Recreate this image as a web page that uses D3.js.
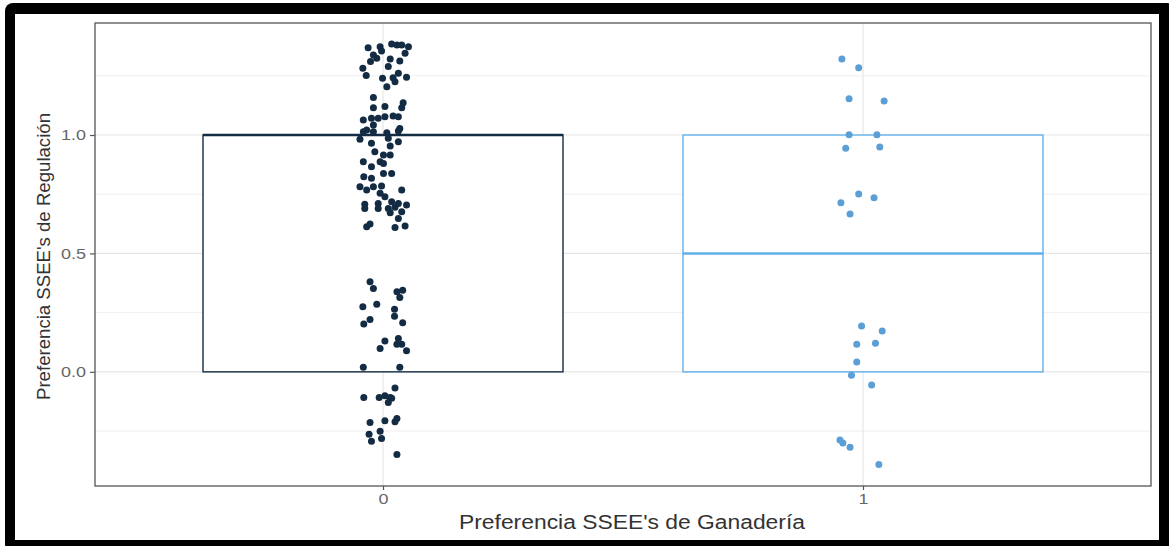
<!DOCTYPE html>
<html>
<head>
<meta charset="utf-8">
<script src="https://cdn.jsdelivr.net/npm/d3@7"></script>
<style>
  html, body { margin: 0; padding: 0; background: #fff; }
  svg { display: block; }
  text { font-family: "Liberation Sans", Arial, sans-serif; }
</style>
</head>
<body>
<svg id="chart" width="1169" height="546"></svg>
<script>
// ---------- data ----------
const categories = ["0", "1"];
const boxQ1 = [0, 0];
const boxMedian = [1, 0.5];
const boxQ3 = [1, 1];
const boxWhiskerLow = [0, 0];
const boxWhiskerHigh = [1, 1];
const groupColors = ["#132B43", "#62B0EA"];
const pointColors = ["#132B43", "#5B9FD6"];

const yMajorTicks = [0, 0.5, 1.0];
const yTickLabels = ["0.0", "0.5", "1.0"];
const yMinorTicks = [-0.25, 0.25, 0.75, 1.25];

const xTitle = "Preferencia SSEE's de Ganadería";
const yTitle = "Preferencia SSEE's de Regulación";

// jittered points, group "0": horizontal jitter (category units) and value
const g0Jitter = [
  -0.031,-0.006,0.018,0.029,0.039,0.053,-0.003,-0.020,-0.013,-0.026,0.015,0.035,0.046,0.011,-0.042,-0.035,-0.001,0.021,0.032,0.049,0.008,0.025,
  -0.020,0.042,-0.020,0.004,0.039,-0.041,-0.024,-0.010,0.004,0.021,0.032,-0.020,-0.034,0.035,
  -0.041,-0.020,0.008,0.032,-0.048,-0.024,0.011,0.032,0.015,-0.017,0.001,0.015,-0.006,-0.041,-0.024,0.001,0.018,0.001,-0.040,-0.024,
  -0.048,-0.034,-0.020,-0.003,-0.006,0.004,0.039,-0.038,-0.038,-0.010,-0.010,0.018,0.011,0.025,0.032,0.049,0.039,0.015,0.032,-0.027,-0.034,0.025,0.046,
  -0.027,-0.020,0.029,0.041,0.035,-0.042,-0.013,0.024,0.024,-0.027,-0.040,0.041,0.004,-0.006,0.032,0.029,0.039,0.049,-0.041,0.035,
  0.025,-0.040,-0.008,0.004,0.015,0.011,0.018,-0.027,0.004,0.025,0.029,-0.029,-0.006,-0.024,-0.003,0.029
];
const g0Values = [
  1.369,1.373,1.384,1.380,1.380,1.373,1.355,1.338,1.324,1.310,1.321,1.313,1.345,1.289,1.282,1.251,1.240,1.242,1.261,1.244,1.204,1.225,
  1.158,1.136,1.115,1.120,1.115,1.063,1.071,1.071,1.077,1.080,1.077,1.042,1.021,1.028,
  1.014,1.014,1.010,1.017,0.982,0.965,0.986,0.972,0.954,0.929,0.916,0.916,0.887,0.887,0.866,0.880,0.838,0.838,0.824,0.817,
  0.782,0.768,0.782,0.785,0.754,0.739,0.768,0.708,0.690,0.711,0.690,0.718,0.690,0.695,0.711,0.704,0.676,0.672,0.648,0.624,0.613,0.610,0.616,
  0.380,0.352,0.338,0.345,0.314,0.275,0.285,0.264,0.235,0.221,0.202,0.207,0.130,0.099,0.141,0.117,0.117,0.089,0.019,0.019,
  -0.068,-0.108,-0.108,-0.101,-0.108,-0.129,-0.112,-0.214,-0.207,-0.211,-0.197,-0.264,-0.251,-0.293,-0.281,-0.349
];
// jittered points, group "1"
const g1Jitter = [
  -0.044,-0.009,-0.029,0.044,-0.029,0.029,-0.036,0.035,-0.009,0.023,-0.046,-0.027,
  -0.003,0.040,-0.013,0.026,-0.013,-0.024,0.018,-0.048,-0.042,-0.027,0.033
];
const g1Values = [
  1.321,1.284,1.153,1.144,1.001,1.001,0.944,0.949,0.751,0.735,0.714,0.666,
  0.194,0.173,0.117,0.121,0.042,-0.014,-0.056,-0.288,-0.300,-0.318,-0.391
];

// ---------- layout ----------
const svg = d3.select("#chart");
const W = 1169, H = 546;
const panel = { left: 95, right: 1151, top: 23, bottom: 486 };

// outer black frame
svg.append("rect").attr("x", 5).attr("y", 3).attr("width", W - 5 + 6).attr("height", H - 3 + 6)
  .attr("rx", 8).attr("fill", "#000");
svg.append("rect").attr("x", 15).attr("y", 14).attr("width", 1159 - 15).attr("height", 540 - 14)
  .attr("fill", "#fff");

// scales
const x = d3.scalePoint().domain(categories).range([panel.left, panel.right]).padding(0.6);
const step = x.step();
const y = d3.scaleLinear().domain([-0.482, 1.473]).range([panel.bottom, panel.top]);

// grid
const g = svg.append("g");
g.selectAll("line.minor").data(yMinorTicks).join("line")
  .attr("x1", panel.left).attr("x2", panel.right)
  .attr("y1", d => y(d)).attr("y2", d => y(d))
  .attr("stroke", "#EBEBEB").attr("stroke-width", 0.8);
g.selectAll("line.major").data(yMajorTicks).join("line")
  .attr("x1", panel.left).attr("x2", panel.right)
  .attr("y1", d => y(d)).attr("y2", d => y(d))
  .attr("stroke", "#E6E6E6").attr("stroke-width", 1.2);
g.selectAll("line.vmajor").data(categories).join("line")
  .attr("x1", d => x(d)).attr("x2", d => x(d))
  .attr("y1", panel.top).attr("y2", panel.bottom)
  .attr("stroke", "#E6E6E6").attr("stroke-width", 1.2);

// boxes
const bw = 0.75 * step;
const boxes = svg.append("g");
categories.forEach((c, i) => {
  const cx = x(c);
  const col = groupColors[i];
  boxes.append("line").attr("x1", cx).attr("x2", cx)
    .attr("y1", y(boxQ3[i])).attr("y2", y(boxWhiskerHigh[i])).attr("stroke", col).attr("stroke-width", 1.4);
  boxes.append("line").attr("x1", cx).attr("x2", cx)
    .attr("y1", y(boxQ1[i])).attr("y2", y(boxWhiskerLow[i])).attr("stroke", col).attr("stroke-width", 1.4);
  boxes.append("rect")
    .attr("x", cx - bw / 2).attr("width", bw)
    .attr("y", y(boxQ3[i])).attr("height", y(boxQ1[i]) - y(boxQ3[i]))
    .attr("fill", "#fff").attr("stroke", col).attr("stroke-width", 1.4);
  boxes.append("line")
    .attr("x1", cx - bw / 2).attr("x2", cx + bw / 2)
    .attr("y1", y(boxMedian[i])).attr("y2", y(boxMedian[i]))
    .attr("stroke", col).attr("stroke-width", 2.4);
});

// points
const pts = svg.append("g");
pts.selectAll("circle.g0").data(d3.zip(g0Jitter, g0Values)).join("circle")
  .attr("cx", d => x("0") + d[0] * step)
  .attr("cy", d => y(d[1]))
  .attr("r", 3.5).attr("fill", pointColors[0]);
pts.selectAll("circle.g1").data(d3.zip(g1Jitter, g1Values)).join("circle")
  .attr("cx", d => x("1") + d[0] * step)
  .attr("cy", d => y(d[1]))
  .attr("r", 3.5).attr("fill", pointColors[1]);

// panel border
svg.append("rect")
  .attr("x", panel.left).attr("y", panel.top)
  .attr("width", panel.right - panel.left).attr("height", panel.bottom - panel.top)
  .attr("fill", "none").attr("stroke", "#555").attr("stroke-width", 1.3);

// y axis
const yAxis = d3.axisLeft(y).tickValues(yMajorTicks)
  .tickFormat((d, i) => yTickLabels[i]).tickSize(5).tickPadding(4);
const ya = svg.append("g").attr("transform", `translate(${panel.left},0)`).call(yAxis);
ya.select(".domain").remove();
ya.selectAll(".tick line").attr("stroke", "#555").attr("stroke-width", 1.2);
ya.selectAll(".tick text").attr("fill", "#666").attr("font-size", 15)
  .attr("font-family", "Liberation Sans, Arial, sans-serif")
  .attr("textLength", 25).attr("lengthAdjust", "spacingAndGlyphs");

// x axis
const xAxis = d3.axisBottom(x).tickSize(4).tickPadding(4);
const xa = svg.append("g").attr("transform", `translate(0,${panel.bottom})`).call(xAxis);
xa.select(".domain").remove();
xa.selectAll(".tick line").attr("stroke", "#555").attr("stroke-width", 1.2);
xa.selectAll(".tick text").attr("fill", "#666").attr("font-size", 14)
  .attr("font-family", "Liberation Sans, Arial, sans-serif")
  .attr("textLength", 10).attr("lengthAdjust", "spacingAndGlyphs");

// titles
svg.append("text")
  .attr("x", 632).attr("y", 529)
  .attr("text-anchor", "middle")
  .attr("font-size", 20).attr("fill", "#333")
  .attr("textLength", 346).attr("lengthAdjust", "spacingAndGlyphs")
  .text(xTitle);
svg.append("text")
  .attr("transform", `translate(50,${(113 + 400) / 2}) rotate(-90)`)
  .attr("text-anchor", "middle")
  .attr("font-size", 19).attr("fill", "#333")
  .attr("textLength", 287).attr("lengthAdjust", "spacingAndGlyphs")
  .text(yTitle);
</script>
</body>
</html>
